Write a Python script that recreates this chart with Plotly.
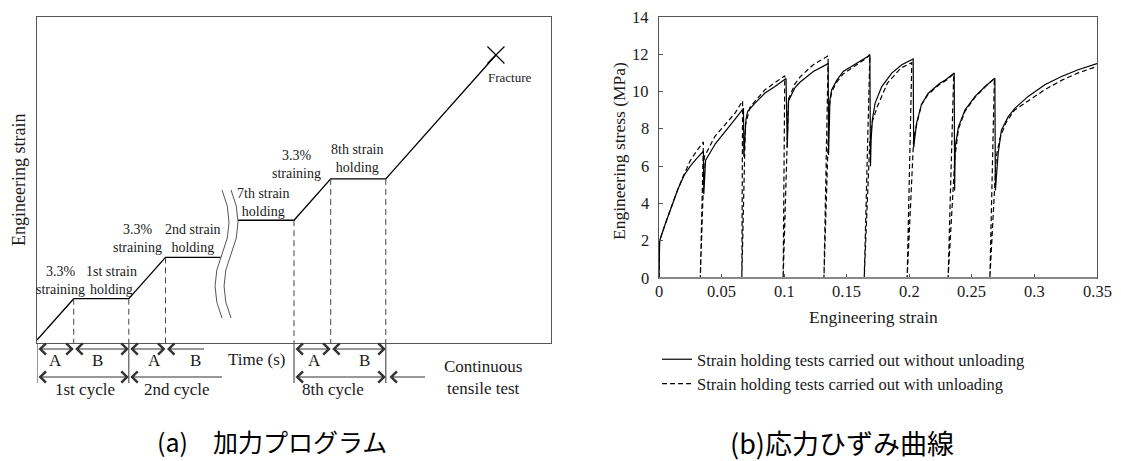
import plotly.graph_objects as go

W, H = 1121, 461
SERIF = "Liberation Serif"
CJK = "Noto Sans CJK JP"
INK = "#1a1a1a"


def px(x):
    """Horizontal pixel -> paper fraction."""
    return x / W


def py(y):
    """Vertical pixel (from top) -> paper fraction."""
    return 1 - y / H


# ---------------------------------------------------------------------------
# (a) Loading programme: time in units of one straining period "A",
#     strain in units of one 3.3 % straining step
# ---------------------------------------------------------------------------
prog_time_early = [0, 1, 2.5, 3.5, 5.0]
prog_strain_early = [0, 1, 1, 2, 2]
prog_time_late = [5.48, 7, 8, 9.5, 12.5]
prog_strain_late = [2.9, 2.9, 3.9, 3.9, 6.9]
fracture_time, fracture_strain = 12.5, 6.9

# dashed guides dropped from the end of each straining/holding stage
guide_time = [1, 2.5, 3.5, 7, 8, 9.5]
guide_strain = [1, 1, 2, 2.9, 3.9, 3.9]

# stage labels: (text, time, strain)
stage_labels = [
    ("3.3%<br>straining", 0.63, 1.44),
    ("1st strain<br>holding", 2.04, 1.44),
    ("3.3%<br>straining", 2.75, 2.45),
    ("2nd strain<br>holding", 4.25, 2.45),
    ("7th strain<br>holding", 6.16, 3.33),
    ("3.3%<br>straining", 7.08, 4.24),
    ("8th strain<br>holding", 8.74, 4.39),
]

# period arrows under the time axis: (t_start, t_end, heads)
period_arrows = [(0, 1, "both"), (1, 2.5, "both"), (2.5, 3.5, "both"), (3.5, 4.55, "start"),
                 (7, 8, "both"), (8, 9.5, "both")]
period_labels = [("A", 0.5), ("B", 1.64), ("A", 3.19), ("B", 4.33), ("A", 7.57), ("B", 8.93)]
cycle_arrows = [(0, 2.5, "both"), (2.5, 5.04, "start"), (7, 9.5, "both"), (9.56, 10.57, "start")]
cycle_labels = [("1st cycle", 1.3), ("2nd cycle", 3.8), ("8th cycle", 8.07)]
cycle_separators = [0, 2.5, 7, 9.5]

T_RANGE = [0, 14]
S_RANGE = [-0.0726, 7.821]

# ---------------------------------------------------------------------------
# (b) Stress-strain curves
# ---------------------------------------------------------------------------
strain_hold = [
    0, 0.0005, 0.005, 0.010, 0.015, 0.020, 0.025, 0.030, 0.0355,
    0.0358, 0.0372, 0.045, 0.053, 0.060, 0.0675,
    0.0678, 0.0695, 0.0708, 0.0767, 0.0847, 0.0927, 0.1015,
    0.1025, 0.1035, 0.1086, 0.1126, 0.1233, 0.1352,
    0.1355, 0.1366, 0.1380, 0.1420, 0.1472, 0.1560, 0.1658, 0.1685,
    0.1690, 0.1695, 0.1705, 0.1727, 0.1780, 0.1860, 0.1940, 0.2031,
    0.2035, 0.2058, 0.2097, 0.2150, 0.2244, 0.2284, 0.2359,
    0.2362, 0.2367, 0.2393, 0.2446, 0.2526, 0.2606, 0.2684,
    0.2688, 0.2710, 0.2736, 0.2790, 0.2843, 0.2950, 0.3083, 0.3216, 0.3349, 0.3500,
]
stress_hold = [
    0, 2.0, 2.9, 3.85, 4.75, 5.5, 6.0, 6.4, 6.8,
    4.5, 6.3, 7.2, 7.85, 8.45, 9.1,
    6.5, 8.5, 8.93, 9.38, 9.92, 10.27, 10.7,
    7.0, 9.5, 10.2, 10.5, 11.08, 11.5,
    6.6, 9.56, 10.1, 10.6, 11.08, 11.44, 11.8, 11.95,
    6.0, 7.4, 8.5, 9.38, 10.27, 10.99, 11.44, 11.75,
    7.0, 8.3, 9.3, 9.9, 10.45, 10.6, 11.0,
    4.7, 7.05, 8.12, 9.02, 9.74, 10.27, 10.72,
    4.7, 6.68, 7.93, 8.64, 9.1, 9.74, 10.37, 10.81, 11.17, 11.5,
]

strain_unload = [
    0, 0.0005, 0.005, 0.010, 0.015, 0.020, 0.025, 0.030, 0.0355,
    0.0330, 0.0362, 0.0447, 0.0527, 0.0607, 0.0668,
    0.0662, 0.0690, 0.0727, 0.0847, 0.0990, 0.1005,
    0.0992, 0.1035, 0.1086, 0.1126, 0.1233, 0.1352,
    0.1318, 0.1360, 0.1380, 0.1420, 0.1472, 0.1560, 0.1658, 0.1685,
    0.1640, 0.1685, 0.1705, 0.1745, 0.1825, 0.1932, 0.2020,
    0.1983, 0.2035, 0.2058, 0.2097, 0.2150, 0.2244, 0.2284, 0.2355,
    0.2310, 0.2365, 0.2393, 0.2446, 0.2526, 0.2606, 0.2680,
    0.2644, 0.2695, 0.2725, 0.2770, 0.2840, 0.2950, 0.3083, 0.3216, 0.3349, 0.3500,
]
stress_unload = [
    0, 2.0, 2.9, 3.85, 4.75, 5.55, 6.3, 6.8, 7.3,
    0, 6.5, 7.6, 8.2, 8.84, 9.5,
    0, 8.2, 9.16, 10.1, 10.8, 10.85,
    0, 9.6, 10.4, 10.78, 11.44, 11.92,
    0, 9.2, 10.0, 10.5, 10.95, 11.35, 11.8, 12.0,
    0, 7.4, 8.4, 9.2, 10.45, 11.26, 11.55,
    0, 7.5, 8.2, 9.3, 9.85, 10.4, 10.55, 10.95,
    0, 6.5, 8.0, 8.95, 9.7, 10.25, 10.7,
    0, 6.5, 7.5, 8.3, 9.0, 9.5, 10.1, 10.6, 11.0, 11.35,
]

strain_ticks = [0, 0.05, 0.1, 0.15, 0.2, 0.25, 0.3, 0.35]
strain_tick_text = ["0", "0.05", "0.1", "0.15", "0.2", "0.25", "0.3", "0.35"]
stress_ticks = [0, 2, 4, 6, 8, 10, 12, 14]

series_names = [
    "Strain holding tests carried out without unloading",
    "Strain holding tests carried out with unloading",
]

fig = go.Figure()

# ---- (a) loading programme ----
for tt, ss in ((prog_time_early, prog_strain_early), (prog_time_late, prog_strain_late)):
    fig.add_trace(go.Scatter(x=tt, y=ss, mode="lines", xaxis="x", yaxis="y",
                             line=dict(color="black", width=1.3), showlegend=False,
                             hoverinfo="skip"))
fig.add_trace(go.Scatter(x=[fracture_time], y=[fracture_strain], mode="markers",
                         xaxis="x", yaxis="y", showlegend=False, hoverinfo="skip",
                         marker=dict(symbol="x-thin", size=17,
                                     line=dict(color="black", width=1.2))))

shapes = []
for t, s in zip(guide_time, guide_strain):
    shapes.append(dict(type="line", xref="x", yref="y", x0=t, x1=t, y0=s, y1=S_RANGE[0],
                       line=dict(color="#444", width=1, dash="6px,4px")))

# wavy break between the 2nd and 7th cycles
BREAK_T, BREAK_GAP, BREAK_AMP = 5.04, 0.245, 0.19
BREAK_TOP, BREAK_BOTTOM = 3.63, 0.53
q = (BREAK_TOP - BREAK_BOTTOM) / 4
for k in range(2):
    t0 = BREAK_T + k * BREAK_GAP
    path = (f"M{t0},{BREAK_TOP} Q{t0 + 2 * BREAK_AMP},{BREAK_TOP - q} {t0},{BREAK_TOP - 2 * q}"
            f" Q{t0 - 2 * BREAK_AMP},{BREAK_TOP - 3 * q} {t0},{BREAK_BOTTOM}")
    shapes.append(dict(type="path", xref="x", yref="y", path=path,
                       line=dict(color="#555", width=1)))

# cycle separators below the time axis
for t in cycle_separators:
    shapes.append(dict(type="line", xref="x", yref="paper", x0=t, x1=t,
                       y0=py(343), y1=py(383), line=dict(color="#555", width=1.2)))

# heavier grey base line of the stress-strain axes
shapes.append(dict(type="line", xref="x2 domain", yref="y2 domain", x0=0, x1=1, y0=0, y1=0,
                   line=dict(color="#888", width=2)))


def label(text, x, y, size, xref="paper", yref="paper", family=SERIF, color=INK,
          xanchor="center", **kw):
    return dict(x=x, y=y, xref=xref, yref=yref, text=text, showarrow=False,
                xanchor=xanchor, yanchor="middle",
                font=dict(family=family, size=size, color=color), **kw)


annotations = []
for text, t, s in stage_labels:
    annotations.append(label(text, t, s, 14, xref="x", yref="y", align="center"))
annotations.append(label("Fracture", fracture_time + 0.38, fracture_strain - 0.55, 13,
                         xref="x", yref="y"))


def arrow(t0, t1, ypix, heads):
    side = {"both": "end+start", "start": "start", "end": "end"}[heads]
    return dict(x=t1, y=py(ypix), xref="x", yref="paper", ax=t0, ay=0, axref="x",
                ayref="pixel", text="", showarrow=True, arrowhead=4, startarrowhead=4,
                arrowside=side, arrowsize=2.0, startarrowsize=2.0, arrowwidth=1.1,
                arrowcolor="#333", standoff=0, startstandoff=0)


for t0, t1, h in period_arrows:
    annotations.append(arrow(t0, t1, 349, h))
for t0, t1, h in cycle_arrows:
    annotations.append(arrow(t0, t1, 377, h))
for text, t in period_labels:
    annotations.append(label(text, t, py(360), 17, xref="x"))
for text, t in cycle_labels:
    annotations.append(label(text, t, py(389), 17, xref="x"))
annotations.append(label("Time (s)", 5.97, py(359), 17, xref="x"))
annotations.append(label("Continuous<br>tensile test", 12.15, py(377), 17, xref="x"))
annotations.append(label("Engineering strain", px(19), py(180), 18, textangle=-90))

# ---- (b) stress-strain curves ----
fig.add_trace(go.Scatter(x=strain_hold, y=stress_hold, mode="lines", xaxis="x2", yaxis="y2",
                         name=series_names[0], line=dict(color="black", width=1.2)))
fig.add_trace(go.Scatter(x=strain_unload, y=stress_unload, mode="lines", xaxis="x2", yaxis="y2",
                         name=series_names[1],
                         line=dict(color="black", width=1.2, dash="5px,3px")))

# tick labels set in the serif face used by the rest of the figure
for v, txt in zip(strain_ticks, strain_tick_text):
    annotations.append(label(txt, v, py(291), 16.5, xref="x2"))
for v in stress_ticks:
    annotations.append(label(str(v), px(651), v, 16.5, yref="y2", xanchor="right"))

annotations.append(label("Engineering strain", px(873), py(317), 17.5))
annotations.append(label("Engineering stress (MPa)", px(619), py(151), 17.5, textangle=-90))

# captions
annotations.append(label("(a)\u3000加力プログラム", px(272), py(441), 25, family=CJK,
                         color="black"))
annotations.append(label("(b)応力ひずみ曲線", px(842), py(442), 27, family=CJK,
                         color="black"))

box_axis = dict(showgrid=False, zeroline=False, showticklabels=False, ticks="",
                showline=True, mirror=True, linecolor="#555", linewidth=1.2)

fig.update_layout(
    width=W, height=H, margin=dict(l=0, r=0, t=0, b=0),
    paper_bgcolor="white", plot_bgcolor="white",
    font=dict(family=SERIF, size=16, color=INK),
    xaxis=dict(domain=[px(37), px(551)], range=T_RANGE, **box_axis),
    yaxis=dict(domain=[py(343), py(17)], range=S_RANGE, **box_axis),
    xaxis2=dict(domain=[px(659), px(1097)], range=[0, 0.35], anchor="y2",
                tickvals=strain_ticks, ticks="inside", showticklabels=False,
                ticklen=4, tickcolor="#555", showgrid=False, zeroline=False,
                showline=True, mirror=True, linecolor="#555", linewidth=1.2),
    yaxis2=dict(domain=[py(278), py(17)], range=[0, 14], anchor="x2",
                tickvals=stress_ticks, ticks="inside", showticklabels=False,
                ticklen=4, tickcolor="#555", showgrid=False, zeroline=False,
                showline=True, mirror=True, linecolor="#555", linewidth=1.2),
    legend=dict(x=px(657), y=py(342), xanchor="left", yanchor="top",
                bgcolor="rgba(0,0,0,0)", font=dict(family=SERIF, size=16.5, color=INK),
                tracegroupgap=0, itemwidth=30),
    shapes=shapes,
    annotations=annotations,
    showlegend=True,
)

# page body without the default 8px margin so the figure fills the window exactly
fig.write_html("out.html",
               post_script="document.body.style.margin='0';"
                           "document.documentElement.style.overflow='hidden';")
